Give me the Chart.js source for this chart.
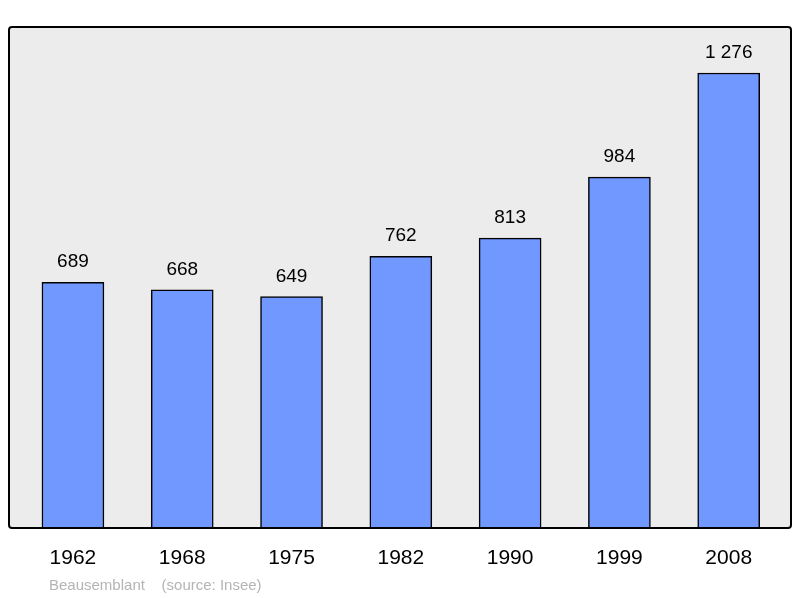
<!DOCTYPE html>
<html>
<head>
<meta charset="utf-8">
<script src="https://cdn.jsdelivr.net/npm/chart.js@4"></script>
<style>
  body { margin: 0; background: #fff; }
  #wrap { width: 800px; height: 598px; }
</style>
</head>
<body>
<div id="wrap"><canvas id="pop"></canvas></div>
<script>
// Population data (Insee)
const years = ['1962', '1968', '1975', '1982', '1990', '1999', '2008'];
const population = [689, 668, 649, 762, 813, 984, 1276];
const commune = 'Beausemblant';
const sourceText = '(source: Insee)';

function fmt(v) {
    return String(v).replace(/\B(?=(\d{3})+(?!\d))/g, ' ');
}

// Draws the grey plot box, value labels, year labels and the caption
const decor = {
    id: 'decor',
    beforeDatasetsDraw(chart) {
        const { ctx, chartArea: a } = chart;
        ctx.save();
        ctx.fillStyle = '#ececec';
        ctx.fillRect(a.left, a.top, a.right - a.left, a.bottom - a.top);
        ctx.restore();
    },
    afterDatasetsDraw(chart) {
        const { ctx, chartArea: a, scales } = chart;
        ctx.save();
        ctx.strokeStyle = '#000';
        ctx.lineWidth = 2;
        ctx.beginPath();
        ctx.roundRect(a.left, a.top, a.right - a.left, a.bottom - a.top, 3);
        ctx.stroke();

        ctx.fillStyle = '#000';
        ctx.textAlign = 'center';
        ctx.font = '19px "Liberation Sans", Arial, sans-serif';
        ctx.textBaseline = 'alphabetic';
        population.forEach((v, i) => {
            const x = scales.x.getPixelForValue(i);
            const y = scales.y.getPixelForValue(v);
            ctx.fillText(fmt(v), x, y - 15);
        });
        ctx.font = '21px "Liberation Sans", Arial, sans-serif';
        years.forEach((yr, i) => {
            ctx.fillText(yr, scales.x.getPixelForValue(i), a.bottom + 36);
        });
        ctx.textAlign = 'left';
        ctx.fillStyle = '#b4b4b4';
        ctx.font = '15px "Liberation Sans", Arial, sans-serif';
        ctx.fillText(commune + '    ' + sourceText, 49, 590);
        ctx.restore();
    }
};

new Chart(document.getElementById('pop'), {
    type: 'bar',
    data: {
        datasets: [{
            data: population.map((v, i) => ({ x: i, y: v })),
            backgroundColor: '#7098ff',
            borderColor: '#000',
            borderWidth: 1.5,
            borderSkipped: 'bottom',
            barThickness: 62
        }]
    },
    options: {
        responsive: true,
        maintainAspectRatio: false,
        animation: false,
        layout: { padding: { left: 9, right: 9, top: 27, bottom: 70 } },
        plugins: { legend: { display: false }, tooltip: { enabled: false } },
        scales: {
            x: { type: 'linear', min: -0.585, max: 6.57, offset: false, display: false },
            y: { min: 0, max: 1405, display: false }
        }
    },
    plugins: [decor]
});
</script>
</body>
</html>
